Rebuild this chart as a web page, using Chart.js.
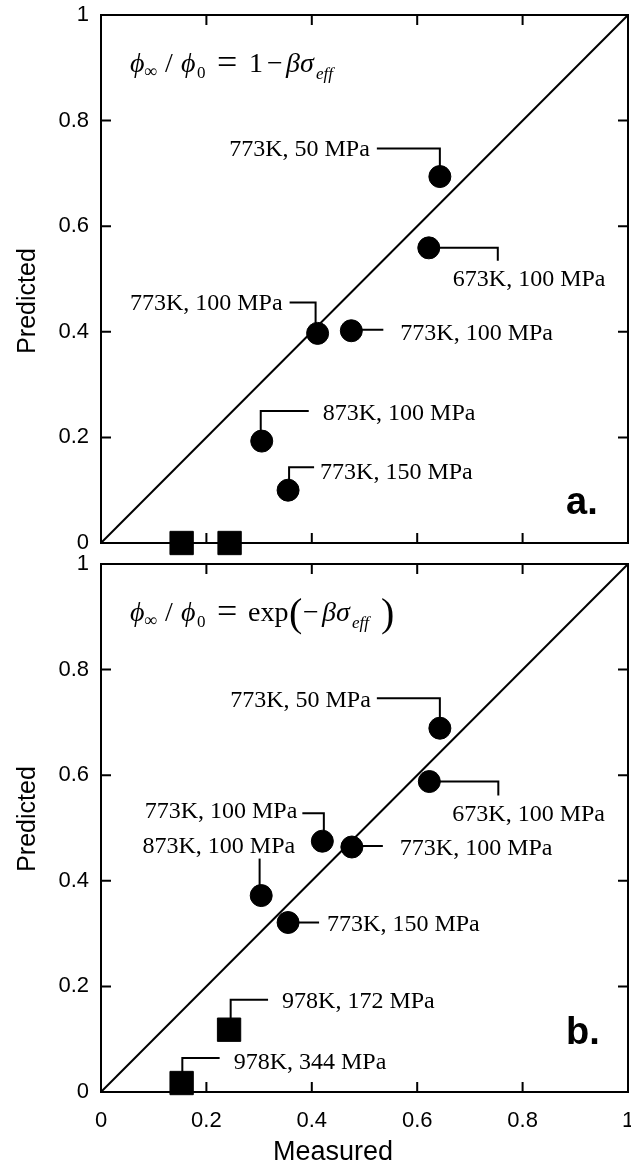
<!DOCTYPE html>
<html>
<head>
<meta charset="utf-8">
<script src="https://cdn.jsdelivr.net/npm/chart.js@4.4.1/dist/chart.umd.min.js"></script>
<style>
  html, body { margin: 0; padding: 0; background: #fff; }
  body { width: 631px; height: 1166px; position: relative; overflow: hidden; }
  canvas { position: absolute; left: 0; top: 0; }
</style>
</head>
<body>
<canvas id="chartA" width="631" height="1166"></canvas>
<canvas id="chartB" width="631" height="1166"></canvas>
<script>
// Values
const axisTicks = [0, 0.2, 0.4, 0.6, 0.8, 1];
const tickLabels = ['0', '0.2', '0.4', '0.6', '0.8', '1'];

// panel a: phi_inf / phi_0 = 1 - beta*sigma_eff
const pointLabelsA = ['773K, 50 MPa', '673K, 100 MPa', '773K, 100 MPa', '773K, 100 MPa', '873K, 100 MPa', '773K, 150 MPa'];
const measuredA = [0.643, 0.622, 0.411, 0.475, 0.305, 0.355];
const predictedA = [0.694, 0.559, 0.397, 0.402, 0.193, 0.100];
const squareLabelsA = ['', ''];
const squareMeasuredA = [0.153, 0.244];
const squarePredictedA = [0, 0];

// panel b: phi_inf / phi_0 = exp(-beta*sigma_eff)
const pointLabelsB = ['773K, 50 MPa', '673K, 100 MPa', '773K, 100 MPa', '773K, 100 MPa', '873K, 100 MPa', '773K, 150 MPa'];
const measuredB = [0.643, 0.623, 0.42, 0.476, 0.304, 0.355];
const predictedB = [0.689, 0.588, 0.475, 0.464, 0.372, 0.321];
const squareLabelsB = ['978K, 172 MPa', '978K, 344 MPa'];
const squareMeasuredB = [0.243, 0.153];
const squarePredictedB = [0.118, 0.017];

// Callouts: leader path and text anchor, as px offsets from the marker
const calloutsA = [
    { path: [[0, 0], [0, -28], [-63, -28]], at: [-70, -27], align: 'right' },
    { path: [[0, 0], [69, 0], [69, 13]], at: [24, 32], align: 'left' },
    { path: [[-2, 0], [-2, -31], [-28, -31]], at: [-35, -30], align: 'right' },
    { path: [[0, -1], [32, -1]], at: [49, 3], align: 'left' },
    { path: [[-1, 0], [-1, -30], [47, -30]], at: [61, -27], align: 'left' },
    { path: [[1, 0], [1, -23], [26, -23]], at: [32, -17], align: 'left' }
];
const calloutsB = [
    { path: [[0, 0], [0, -30], [-63, -30]], at: [-69, -28], align: 'right' },
    { path: [[0, 0], [69, 0], [69, 14]], at: [23, 33], align: 'left' },
    { path: [[1.5, 0], [1.5, -28], [-20, -28]], at: [-25, -29], align: 'right' },
    { path: [[0, -1], [31, -1]], at: [48, 2], align: 'left' },
    { path: [[-1.6, 0], [-1.6, -37]], at: [34, -49], align: 'right' },
    { path: [[0, 0], [31, 0]], at: [39, 2], align: 'left' }
];
const squareCalloutsB = [
    { path: [[1.6, 0], [1.6, -30], [39, -30]], at: [53, -28], align: 'left' },
    { path: [[0.7, 0], [0.7, -25], [38, -25]], at: [52, -20], align: 'left' }
];

const SERIF = '"Liberation Serif", "Times New Roman", serif';
const SANS = '"Liberation Sans", Arial, sans-serif';

// formula pieces: [text, font, x, dy]
const formulaA = [
    ['\u03d5', 'italic 28px ' + SERIF, 130, 0],
    ['\u221e', '18px ' + SERIF, 144, 5],
    ['/', '28px ' + SERIF, 165, 0],
    ['\u03d5', 'italic 28px ' + SERIF, 181, 0],
    ['0', '17px ' + SERIF, 197, 6],
    ['=', '36px ' + SERIF, 217, 2],
    ['1', '28px ' + SERIF, 249, 0],
    ['\u2212', '28px ' + SERIF, 267, 0],
    ['\u03b2\u03c3', 'italic 28px ' + SERIF, 286, 0],
    ['eff', 'italic 17px ' + SERIF, 316, 7]
];
const formulaB = [
    ['\u03d5', 'italic 28px ' + SERIF, 130, 0],
    ['\u221e', '18px ' + SERIF, 144, 5],
    ['/', '28px ' + SERIF, 165, 0],
    ['\u03d5', 'italic 28px ' + SERIF, 181, 0],
    ['0', '17px ' + SERIF, 197, 6],
    ['=', '36px ' + SERIF, 217, 2],
    ['exp', '28px ' + SERIF, 248, 0],
    ['(', '40px ' + SERIF, 289, 5],
    ['\u2212', '28px ' + SERIF, 303, 0],
    ['\u03b2\u03c3', 'italic 28px ' + SERIF, 322, 0],
    ['eff', 'italic 17px ' + SERIF, 352, 7],
    [')', '40px ' + SERIF, 381, 5]
];

function drawCallouts(ctx, x, y, ms, ps, labels, specs, part) {
    ms.forEach((m, i) => {
        const s = specs[i];
        if (!s) return;
        const px = x.getPixelForValue(m), py = y.getPixelForValue(ps[i]);
        if (part === 'line') {
            ctx.beginPath();
            s.path.forEach(([dx, dy], k) => {
                if (k === 0) ctx.moveTo(px + dx, py + dy);
                else ctx.lineTo(px + dx, py + dy);
            });
            ctx.stroke();
        } else {
            ctx.textAlign = s.align;
            ctx.fillText(labels[i], px + s.at[0], py + s.at[1]);
        }
    });
}

function makePanel(id, p) {
    const panelPlugin = {
        id: 'panel_' + id,
        beforeDatasetsDraw(chart) {
            const { ctx, chartArea: a, scales: { x, y } } = chart;
            ctx.save();
            ctx.strokeStyle = '#000';
            ctx.lineWidth = 2;
            ctx.strokeRect(a.left, a.top, a.right - a.left, a.bottom - a.top);
            // inward ticks on all four sides
            ctx.beginPath();
            axisTicks.forEach(v => {
                const tx = x.getPixelForValue(v), ty = y.getPixelForValue(v);
                ctx.moveTo(tx, a.bottom); ctx.lineTo(tx, a.bottom - 10);
                ctx.moveTo(tx, a.top); ctx.lineTo(tx, a.top + 10);
                ctx.moveTo(a.left, ty); ctx.lineTo(a.left + 10, ty);
                ctx.moveTo(a.right, ty); ctx.lineTo(a.right - 10, ty);
            });
            ctx.stroke();
            // leader lines sit under the markers
            drawCallouts(ctx, x, y, p.circlesX, p.circlesY, p.circleLabels, p.circleCallouts, 'line');
            drawCallouts(ctx, x, y, p.squaresX, p.squaresY, p.squareLabels, p.squareCallouts, 'line');
            ctx.restore();
        },
        afterDatasetsDraw(chart) {
            const { ctx, chartArea: a, scales: { x, y } } = chart;
            ctx.save();
            ctx.fillStyle = '#000';
            ctx.textBaseline = 'middle';
            ctx.font = '24px ' + SERIF;
            drawCallouts(ctx, x, y, p.circlesX, p.circlesY, p.circleLabels, p.circleCallouts, 'text');
            drawCallouts(ctx, x, y, p.squaresX, p.squaresY, p.squareLabels, p.squareCallouts, 'text');

            // formula
            ctx.textAlign = 'left';
            ctx.textBaseline = 'alphabetic';
            p.formula.forEach(([t, f, fx, dy]) => {
                ctx.font = f;
                ctx.fillText(t, fx, a.top + 57 + dy);
            });

            // panel letter
            ctx.font = 'bold 38px ' + SANS;
            ctx.fillText(p.letter, 566, p.letterY);

            // axis titles
            ctx.font = '25px ' + SANS;
            ctx.textAlign = 'center';
            ctx.save();
            ctx.translate(35, p.yTitleY);
            ctx.rotate(-Math.PI / 2);
            ctx.fillText('Predicted', 0, 0);
            ctx.restore();
            if (p.showX) {
                ctx.font = '27px ' + SANS;
                ctx.fillText('Measured', 333, 1160);
            }
            ctx.restore();
        }
    };

    new Chart(document.getElementById(id), {
        type: 'scatter',
        data: {
            datasets: [
                {
                    data: p.circlesX.map((v, i) => ({ x: v, y: p.circlesY[i] })),
                    pointStyle: 'circle',
                    pointRadius: 11,
                    backgroundColor: '#000',
                    borderColor: '#000',
                    borderWidth: 1,
                    clip: false,
                    order: 0
                },
                {
                    data: p.squaresX.map((v, i) => ({ x: v, y: p.squaresY[i] })),
                    pointStyle: 'rect',
                    pointRadius: 16.5,
                    backgroundColor: '#000',
                    borderColor: '#000',
                    borderWidth: 1,
                    clip: false,
                    order: 0
                },
                {
                    // 1:1 line
                    data: [{ x: 0, y: 0 }, { x: 1, y: 1 }],
                    showLine: true,
                    pointRadius: 0,
                    borderColor: '#000',
                    borderWidth: 2,
                    order: 2
                }
            ]
        },
        options: {
            responsive: false,
            animation: false,
            events: [],
            layout: { autoPadding: false, padding: { left: 0, right: 3, top: p.top, bottom: p.padBottom } },
            plugins: { legend: { display: false }, tooltip: { enabled: false } },
            scales: {
                x: {
                    type: 'linear', min: 0, max: 1,
                    afterBuildTicks: s => { s.ticks = axisTicks.map(v => ({ value: v })); },
                    grid: { display: false, drawTicks: false },
                    border: { display: false },
                    ticks: {
                        display: p.showX,
                        color: '#000',
                        padding: 16,
                        maxRotation: 0,
                        autoSkip: false,
                        font: { family: SANS, size: 22 },
                        callback: (v, i) => tickLabels[i]
                    },
                    afterFit: s => { s.height = p.xHeight; s.paddingLeft = 0; s.paddingRight = 0; }
                },
                y: {
                    type: 'linear', min: 0, max: 1,
                    afterBuildTicks: s => { s.ticks = axisTicks.map(v => ({ value: v })); },
                    grid: { display: false, drawTicks: false },
                    border: { display: false },
                    ticks: {
                        color: '#000',
                        padding: 12,
                        autoSkip: false,
                        font: { family: SANS, size: 22 },
                        callback: (v, i) => tickLabels[i]
                    },
                    afterFit: s => { s.width = 101; s.paddingTop = 0; s.paddingBottom = 0; }
                }
            }
        },
        plugins: [panelPlugin]
    });
}

makePanel('chartA', {
    circlesX: measuredA, circlesY: predictedA, circleLabels: pointLabelsA, circleCallouts: calloutsA,
    squaresX: squareMeasuredA, squaresY: squarePredictedA, squareLabels: squareLabelsA, squareCallouts: [],
    formula: formulaA, letter: 'a.', letterY: 514, yTitleY: 301,
    top: 15, padBottom: 623, xHeight: 0, showX: false
});

makePanel('chartB', {
    circlesX: measuredB, circlesY: predictedB, circleLabels: pointLabelsB, circleCallouts: calloutsB,
    squaresX: squareMeasuredB, squaresY: squarePredictedB, squareLabels: squareLabelsB, squareCallouts: squareCalloutsB,
    formula: formulaB, letter: 'b.', letterY: 1044, yTitleY: 819,
    top: 564, padBottom: 24, xHeight: 50, showX: true
});
</script>
</body>
</html>
